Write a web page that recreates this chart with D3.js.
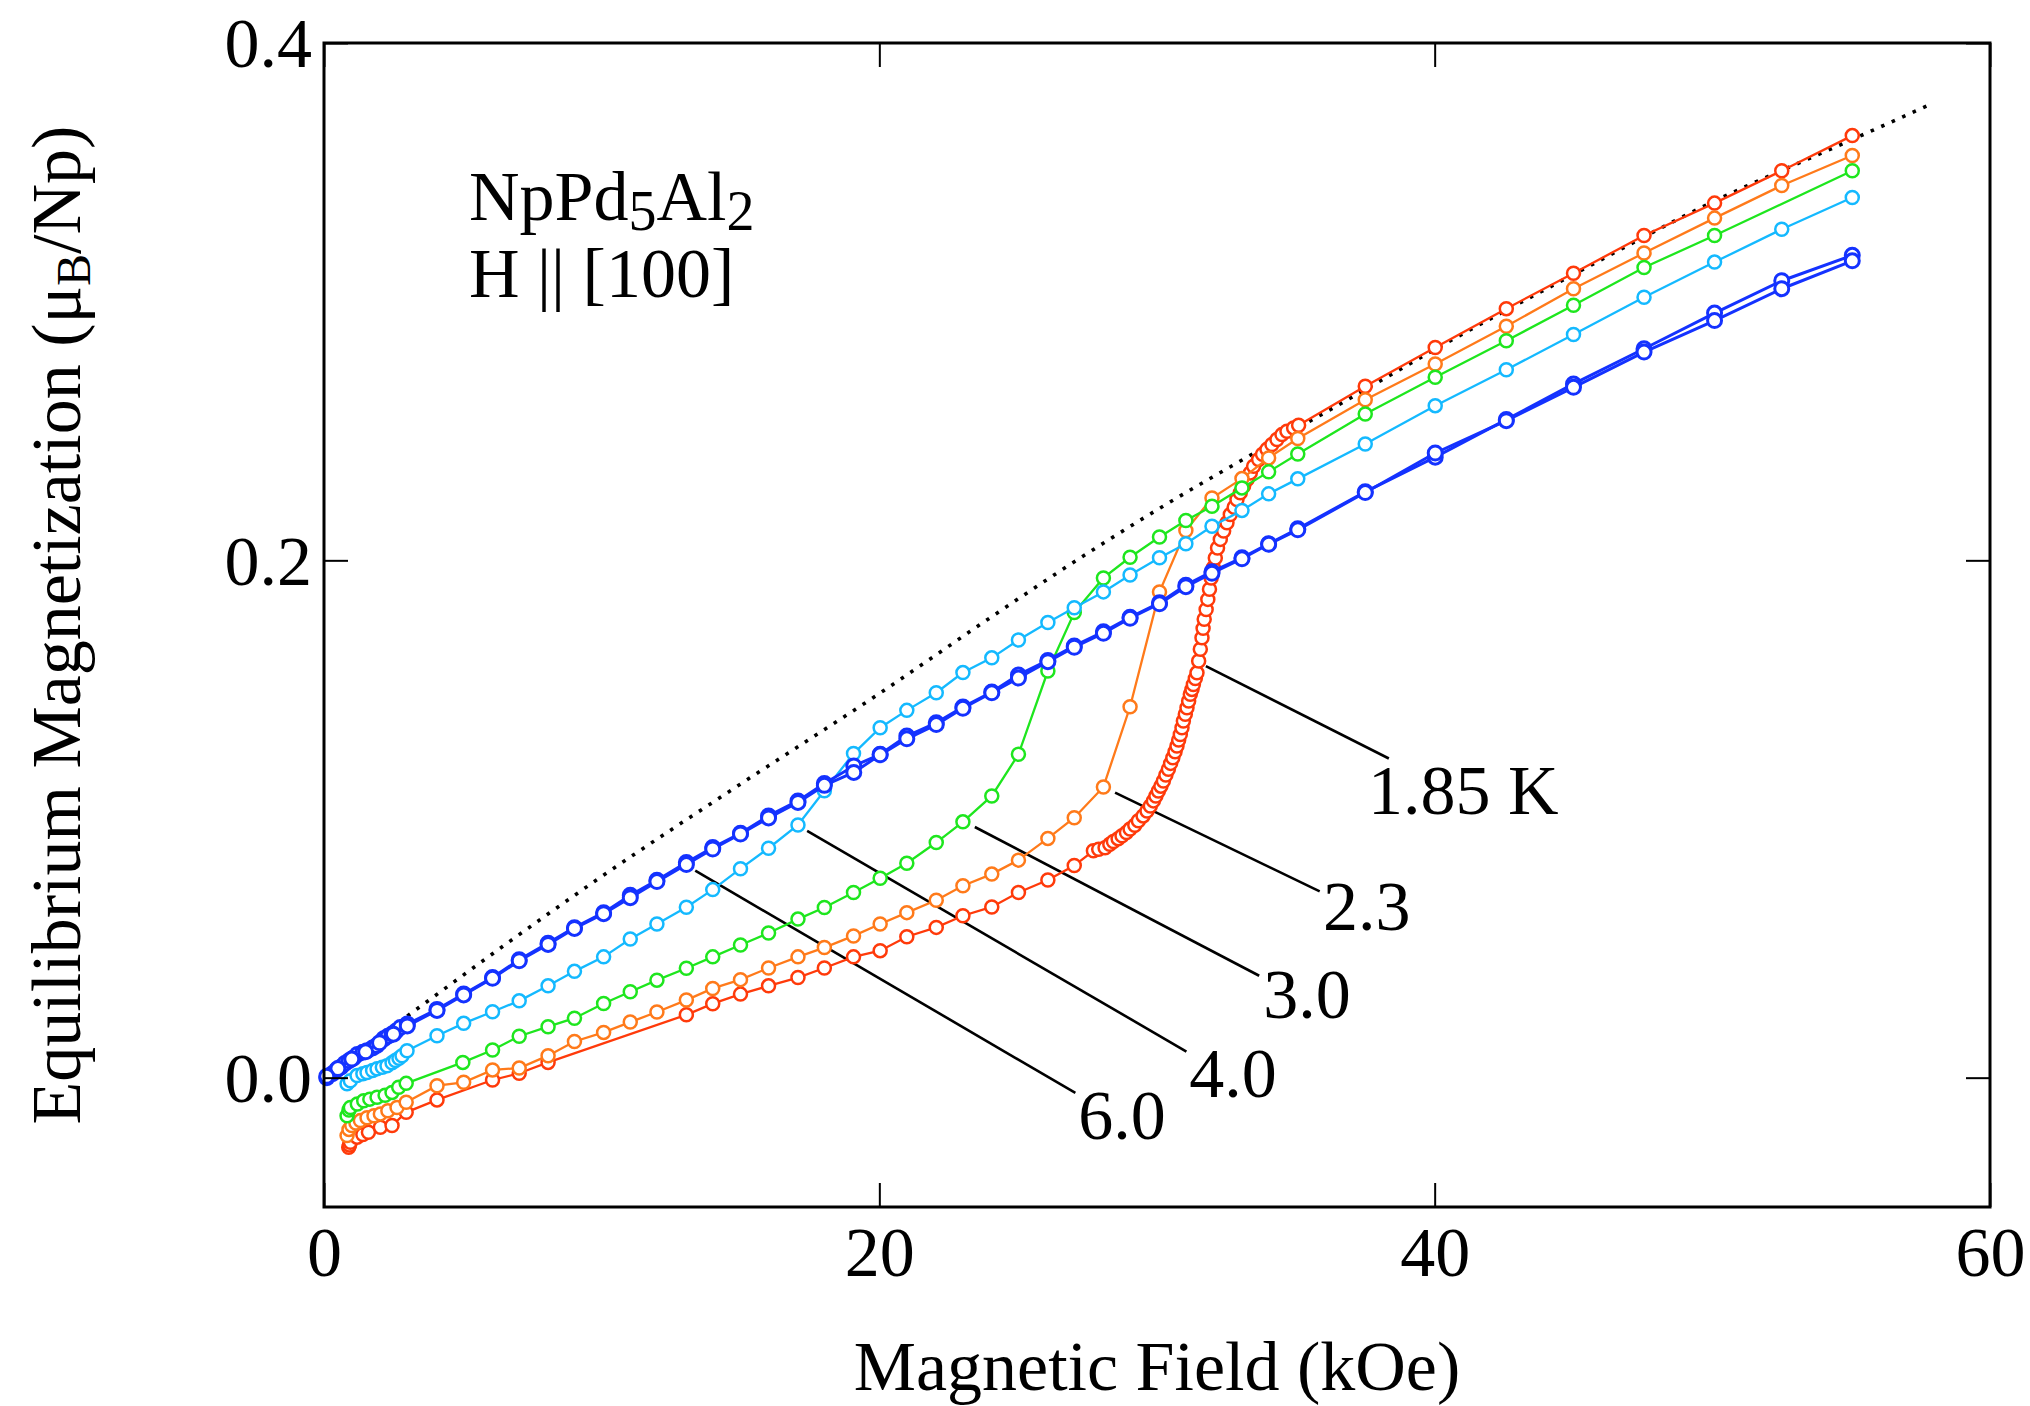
<!DOCTYPE html>
<html>
<head>
<meta charset="utf-8">
<script src="https://cdn.jsdelivr.net/npm/d3@7"></script>
<style>
body { margin: 0; background: #fff; }
svg text { font-family: 'Liberation Serif', 'Times New Roman', serif; fill: #000; }
</style>
</head>
<body>
<svg></svg>
<script>
'use strict'

const width = 2030
const height = 1406

// axis ticks
const fieldTicks = [0, 20, 40, 60]
const magTicks = [0, 0.2, 0.4]

// [H (kOe), M (muB/Np)]
const t185 = [[0.89,-0.0269],[0.92,-0.026],[0.95,-0.025],[1.19,-0.023],[1.4,-0.022],[1.6,-0.0211],[2.03,-0.0192],[2.45,-0.0185],[2.96,-0.0134],
  [4.07,-0.0086],[6.07,-0.0009],[7.03,0.0017],[8.07,0.0059],[13.05,0.0243],[14.0,0.0286],[15.0,0.0323],[16.01,0.0355],[17.07,0.0387],
  [18.02,0.0424],[19.07,0.0467],[20.03,0.0491],[20.99,0.0545],[22.05,0.0581],[23.01,0.0626],[24.05,0.066],[25.01,0.0716],[26.07,0.0764],
  [27.02,0.082],[27.71,0.0877],[27.9,0.0883],[28.13,0.0889],[28.3,0.0902],[28.43,0.0913],[28.6,0.0924],[28.74,0.0935],[28.9,0.0948],
  [29.03,0.0961],[29.2,0.0976],[29.33,0.0993],[29.5,0.1012],[29.64,0.1031],[29.76,0.105],[29.87,0.107],[29.96,0.1089],[30.05,0.1108],
  [30.14,0.1127],[30.23,0.1147],[30.32,0.117],[30.41,0.1192],[30.49,0.1215],[30.57,0.1237],[30.65,0.126],[30.72,0.1282],[30.78,0.1305],
  [30.84,0.1327],[30.9,0.1353],[30.95,0.1379],[31.02,0.1405],[31.08,0.143],[31.14,0.1456],[31.2,0.1482],[31.26,0.1501],[31.31,0.152],
  [31.38,0.1543],[31.44,0.1565],[31.5,0.1611],[31.56,0.1656],[31.62,0.1701],[31.66,0.1737],[31.7,0.1772],[31.77,0.181],[31.83,0.1849],
  [31.89,0.1888],[31.95,0.1932],[32.03,0.1971],[32.1,0.2009],[32.18,0.2048],[32.28,0.2081],[32.4,0.2113],[32.52,0.2145],[32.64,0.2177],
  [32.78,0.2205],[32.88,0.2235],[33.0,0.2261],[33.12,0.2287],[33.24,0.2312],[33.36,0.2338],[33.48,0.2364],[33.66,0.239],[33.8,0.241],
  [33.96,0.2429],[34.14,0.2448],[34.32,0.2467],[34.5,0.2486],[34.68,0.2499],[34.92,0.2512],[35.1,0.2522],[37.5,0.2673],[40.02,0.2823],
  [42.58,0.2973],[45.0,0.311],[47.54,0.3256],[50.08,0.3381],[52.5,0.3506],[55.04,0.3642]]

const t23 = [[0.83,-0.0224],[0.9,-0.02],[1.0,-0.0185],[1.15,-0.0175],[1.31,-0.0166],[1.55,-0.0155],[1.8,-0.0147],[2.03,-0.014],[2.3,-0.0128],
  [2.63,-0.0115],[2.96,-0.0095],[4.07,-0.0031],[5.03,-0.0018],[6.07,0.003],[7.03,0.0037],[8.07,0.0085],[9.02,0.014],[10.07,0.0175],
  [11.03,0.0215],[11.99,0.0254],[13.05,0.03],[14.0,0.0345],[15.0,0.0379],[16.01,0.0424],[17.07,0.0467],[18.02,0.0503],[19.07,0.0548],
  [20.03,0.0594],[20.99,0.0638],[22.05,0.0686],[23.01,0.0742],[24.05,0.0787],[25.01,0.0841],[26.07,0.0925],[27.02,0.1005],[28.07,0.1124],
  [29.03,0.1434],[30.09,0.1878],[31.04,0.2115],[31.98,0.2241],[33.06,0.2316],[34.02,0.2396],[35.07,0.2471],[37.5,0.2621],[40.02,0.2759],
  [42.58,0.2905],[45.0,0.305],[47.54,0.3188],[50.08,0.3323],[52.5,0.3449],[55.04,0.3565]]

const t30 = [[0.83,-0.0147],[0.9,-0.0125],[0.95,-0.0115],[1.2,-0.0102],[1.43,-0.0089],[1.65,-0.0083],[1.91,-0.0076],[2.2,-0.0068],
  [2.45,-0.0057],[2.69,-0.0037],[2.96,-0.0022],[5.0,0.0059],[6.07,0.0107],[7.03,0.016],[8.07,0.0197],[9.02,0.023],[10.07,0.0287],
  [11.03,0.0332],[11.99,0.0377],[13.05,0.0423],[14.0,0.0467],[15.0,0.0513],[16.01,0.0559],[17.07,0.0613],[18.02,0.0658],[19.07,0.0716],
  [20.03,0.0771],[20.99,0.0829],[22.05,0.0909],[23.01,0.0989],[24.05,0.1089],[25.01,0.125],[26.07,0.1572],[27.02,0.1798],[28.07,0.1932],
  [29.03,0.2012],[30.09,0.209],[31.04,0.2154],[31.98,0.2209],[33.06,0.228],[34.02,0.2342],[35.07,0.2411],[37.5,0.2566],[40.02,0.2708],
  [42.58,0.2849],[45.0,0.2986],[47.54,0.3132],[50.08,0.3256],[55.04,0.3506]]

const t40 = [[0.83,-0.0024],[0.95,-0.0012],[1.19,0.0008],[1.4,0.0015],[1.55,0.002],[1.75,0.0028],[1.91,0.0034],[2.1,0.004],[2.27,0.0046],
  [2.45,0.0058],[2.57,0.0066],[2.7,0.0075],[2.81,0.0085],[2.99,0.0104],[4.07,0.0162],[5.03,0.021],[6.07,0.0255],[7.03,0.0297],
  [8.07,0.0355],[9.02,0.0411],[10.07,0.0467],[11.03,0.0536],[11.99,0.0594],[13.05,0.0659],[14.0,0.0727],[15.0,0.0808],[16.01,0.0887],
  [17.07,0.0977],[18.02,0.1109],[19.07,0.1253],[20.03,0.1353],[20.99,0.142],[22.05,0.1488],[23.01,0.1566],[24.05,0.1623],[25.01,0.1692],
  [26.07,0.176],[27.02,0.1817],[28.07,0.1878],[29.03,0.1943],[30.09,0.201],[31.04,0.2064],[31.98,0.2132],[33.06,0.2193],[34.02,0.2257],
  [35.07,0.2315],[37.5,0.245],[40.02,0.2598],[42.58,0.2737],[45.0,0.2873],[47.54,0.3017],[50.08,0.3153],[52.5,0.328],[55.04,0.3403]]

// 6.0 K was swept up and back down
const t60up = [[0.1,0.0],[0.3,0.0015],[0.45,0.003],[0.6,0.004],[0.75,0.0055],[0.9,0.0065],[1.05,0.0075],[1.2,0.009],[1.4,0.0098],
  [1.55,0.0104],[1.75,0.0115],[1.9,0.0124],[2.15,0.015],[2.3,0.016],[2.45,0.0169],[2.6,0.018],[2.75,0.0194],[3.0,0.0207],[4.07,0.0264],
  [5.03,0.0323],[6.07,0.0387],[7.03,0.0456],[8.07,0.052],[9.02,0.058],[10.07,0.0638],[11.03,0.0705],[11.99,0.0763],[13.05,0.0832],
  [14.0,0.089],[15.0,0.0945],[16.01,0.1012],[17.07,0.107],[18.02,0.1137],[19.08,0.1205],[20.03,0.125],[20.99,0.1321],[22.05,0.1372],
  [23.01,0.1433],[24.05,0.1491],[25.01,0.1557],[26.07,0.1613],[27.02,0.1669],[28.07,0.1724],[29.03,0.178],[30.09,0.1836],[31.04,0.1904],
  [31.98,0.1956],[33.06,0.201],[34.02,0.2064],[35.07,0.2122],[37.5,0.2265],[40.02,0.2399],[42.58,0.2544],[45.0,0.2682],[47.54,0.2818],
  [50.08,0.2956],[52.5,0.3081],[55.04,0.3179]]

const t60down = [[55.04,0.3158],[52.5,0.305],[50.08,0.2927],[47.54,0.2805],[45.0,0.2669],[42.58,0.254],[40.02,0.2415],[37.5,0.2262],
  [35.07,0.2118],[34.02,0.2062],[33.06,0.2006],[31.98,0.195],[31.04,0.1898],[30.09,0.1832],[29.03,0.1776],[28.07,0.1718],[27.02,0.1664],
  [26.07,0.1608],[25.01,0.1545],[24.05,0.1488],[23.01,0.1428],[22.05,0.1365],[20.99,0.131],[20.03,0.1248],[19.08,0.118],[18.02,0.113],
  [17.07,0.1064],[16.01,0.1004],[15.0,0.0942],[14.0,0.0884],[13.05,0.0824],[11.99,0.0758],[11.03,0.0696],[10.07,0.0634],[9.02,0.0577],
  [8.07,0.0515],[7.03,0.0452],[6.07,0.0384],[5.03,0.032],[4.07,0.026],[3.0,0.02],[2.5,0.0168],[2.0,0.0135],[1.5,0.01],[1.0,0.0072],
  [0.5,0.0035],[0.1,0.0005]]

// dotted guide curve
const envelope = [[0,0],[3.1,0.0246],[9.95,0.0774],[15,0.1135],[20,0.1485],[24.35,0.1804],[26.5,0.1958],[30,0.2195],[33.5,0.2415],
  [37.5,0.266],[40,0.2815],[45,0.3105],[50,0.3385],[55,0.3625],[57.9,0.3765]]

const tempLabels = ['1.85 K', '2.3', '3.0', '4.0', '6.0']
// leader lines in data units: [H0, M0, H1, M1]
const leaders = [[31.76,0.1591,38.35,0.1234],[28.49,0.1102,35.86,0.072],[23.44,0.0969,33.68,0.0394],[17.4,0.0954,31.06,0.0101],[13.37,0.08,27.06,-0.0059]]
const labelAt = [[37.6,0.1019],[35.98,0.0572],[33.83,0.0232],[31.16,-0.0073],[27.16,-0.0236]]

const seriesList = [t185, t23, t30, t40, t60up, t60down]
const colors = ['#ff3a0a', '#ff7a1a', '#1ee61e', '#14b9ff', '#1432ff', '#1432ff']

const svg = d3.select('svg').attr('width', width).attr('height', height)
svg.append('rect').attr('width', width).attr('height', height).attr('fill', '#fff')

const x = d3.scaleLinear().domain([0, 60]).range([324, 1990])
const y = d3.scaleLinear().domain([-0.05, 0.4]).range([1207, 43])

const line = d3.line().x(d => x(d[0])).y(d => y(d[1]))

// dotted curve
svg.append('path')
    .datum(envelope)
    .attr('d', line.curve(d3.curveMonotoneX))
    .attr('fill', 'none')
    .attr('stroke', '#000')
    .attr('stroke-width', 3.6)
    .attr('stroke-dasharray', '3.5,8')
line.curve(d3.curveLinear)

// leader lines
svg.append('g').selectAll('line')
    .data(leaders)
    .join('line')
    .attr('x1', d => x(d[0])).attr('y1', d => y(d[1]))
    .attr('x2', d => x(d[2])).attr('y2', d => y(d[3]))
    .attr('stroke', '#000')
    .attr('stroke-width', 2.6)

// data series
seriesList.forEach((s, i) => {
    const blue = i >= 4
    const g = svg.append('g')
    g.append('path')
        .datum(s)
        .attr('d', line)
        .attr('fill', 'none')
        .attr('stroke', colors[i])
        .attr('stroke-width', blue ? 3 : 2.3)
    g.selectAll('circle')
        .data(s)
        .join('circle')
        .attr('cx', d => x(d[0]))
        .attr('cy', d => y(d[1]))
        .attr('r', blue ? 7 : 6.5)
        .attr('fill', '#fff')
        .attr('stroke', colors[i])
        .attr('stroke-width', blue ? 3 : 2.5)
})

// temperature labels
svg.append('g').selectAll('text')
    .data(tempLabels)
    .join('text')
    .attr('x', (d, i) => x(labelAt[i][0]))
    .attr('y', (d, i) => y(labelAt[i][1]))
    .attr('font-size', 70)
    .text(d => d)

// axes with inward ticks on all sides
const tickStyle = g => {
    g.select('.domain').remove()
    g.selectAll('.tick line').attr('stroke', '#000').attr('stroke-width', 2)
}

svg.append('g')
    .attr('transform', 'translate(0,1207)')
    .call(d3.axisBottom(x).tickValues(fieldTicks).tickSize(-24).tickFormat(d3.format('d')))
    .call(tickStyle)
    .call(g => g.selectAll('text').attr('y', 69).attr('dy', 0).attr('font-size', 70)
        .attr('font-family', null))

svg.append('g')
    .attr('transform', 'translate(0,43)')
    .call(d3.axisTop(x).tickValues(fieldTicks).tickSize(-24).tickFormat(''))
    .call(tickStyle)

svg.append('g')
    .attr('transform', 'translate(324,0)')
    .call(d3.axisLeft(y).tickValues(magTicks).tickSize(-24).tickPadding(12).tickFormat(d3.format('.1f')))
    .call(tickStyle)
    .call(g => g.selectAll('text').attr('font-size', 70).attr('dy', '0.34em').attr('font-family', null))

svg.append('g')
    .attr('transform', 'translate(1990,0)')
    .call(d3.axisRight(y).tickValues(magTicks).tickSize(-24).tickFormat(''))
    .call(tickStyle)

// frame
svg.append('rect')
    .attr('x', 324).attr('y', 43)
    .attr('width', 1990 - 324).attr('height', 1207 - 43)
    .attr('fill', 'none')
    .attr('stroke', '#000')
    .attr('stroke-width', 3)

// axis titles
svg.append('text')
    .attr('x', 1157).attr('y', 1390)
    .attr('text-anchor', 'middle')
    .attr('font-size', 70)
    .text('Magnetic Field (kOe)')

const yTitle = svg.append('text')
    .attr('transform', 'translate(80,625) rotate(-90)')
    .attr('text-anchor', 'middle')
    .attr('font-size', 70)
yTitle.append('tspan').text('Equilibrium Magnetization (\u03bc')
yTitle.append('tspan').attr('font-size', 48).attr('dy', 10).text('B')
yTitle.append('tspan').attr('dy', -10).text('/Np)')

// sample annotation
const note = svg.append('text').attr('x', 469).attr('y', 220).attr('font-size', 70)
note.append('tspan').text('NpPd')
note.append('tspan').attr('font-size', 56).attr('dy', 10).text('5')
note.append('tspan').attr('dy', -10).text('Al')
note.append('tspan').attr('font-size', 56).attr('dy', 10).text('2')

svg.append('text').attr('x', 469).attr('y', 297).attr('font-size', 70).text('H || [100]')
</script>
</body>
</html>
